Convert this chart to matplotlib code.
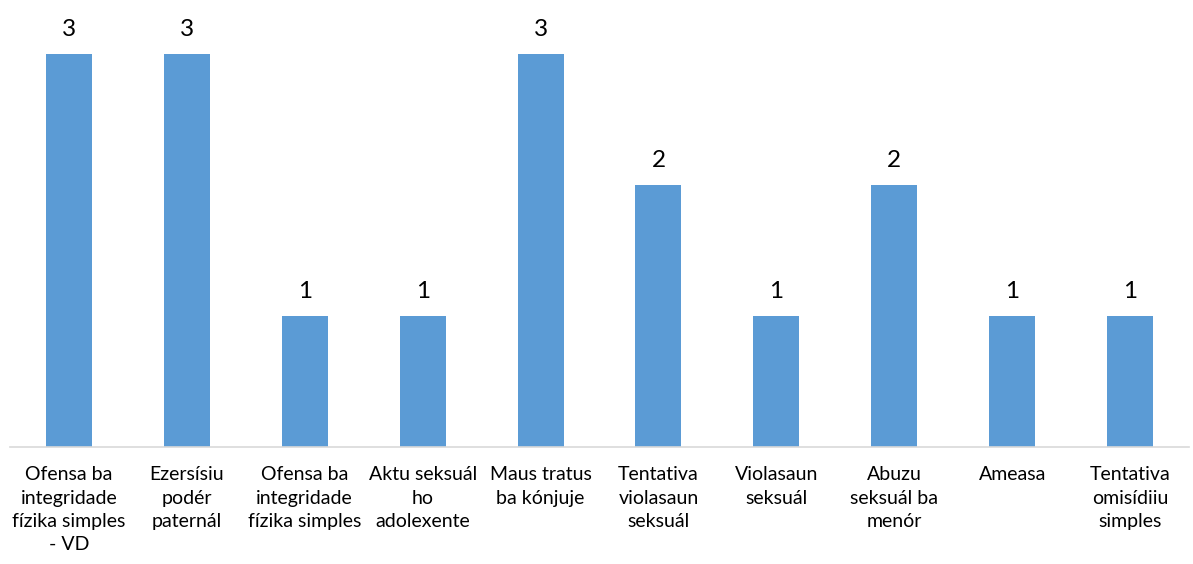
import matplotlib
matplotlib.use("Agg")
import matplotlib.pyplot as plt

categories = [
    "Ofensa ba\nintegridade\nfízika simples\n- VD",
    "Ezersísiu\npodér\npaternál",
    "Ofensa ba\nintegridade\nfízika simples",
    "Aktu seksuál\nho\nadolexente",
    "Maus tratus\nba kónjuje",
    "Tentativa\nviolasaun\nseksuál",
    "Violasaun\nseksuál",
    "Abuzu\nseksuál ba\nmenór",
    "Ameasa",
    "Tentativa\nomisídiiu\nsimples",
]
values = [3, 3, 1, 1, 3, 2, 1, 2, 1, 1]

plt.rcParams["font.family"] = ["Lato", "DejaVu Sans"]

fig = plt.figure(figsize=(11.93, 5.64), dpi=100)
ax = fig.add_axes([10 / 1193, 117 / 564, 1179 / 1193, 447 / 564])

x = range(len(categories))
bars = ax.bar(x, values, width=0.39, color="#5B9BD5")
ax.set_xlim(-0.5, len(categories) - 0.5)
ax.set_ylim(0, 3.41)

for b, v in zip(bars, values):
    ax.annotate(str(v), (b.get_x() + b.get_width() / 2, v), xytext=(0, 10),
                textcoords="offset points", ha="center", va="bottom", fontsize=17.5)

ax.set_xticks(list(x))
ax.set_xticklabels(categories, fontsize=14, linespacing=1.45, va="top")
ax.tick_params(axis="x", length=0, pad=14)
ax.set_yticks([])
for s in ["top", "left", "right"]:
    ax.spines[s].set_visible(False)
ax.spines["bottom"].set_color("#D9D9D9")
ax.spines["bottom"].set_linewidth(1.2)

fig.savefig("out.png", dpi=100)
